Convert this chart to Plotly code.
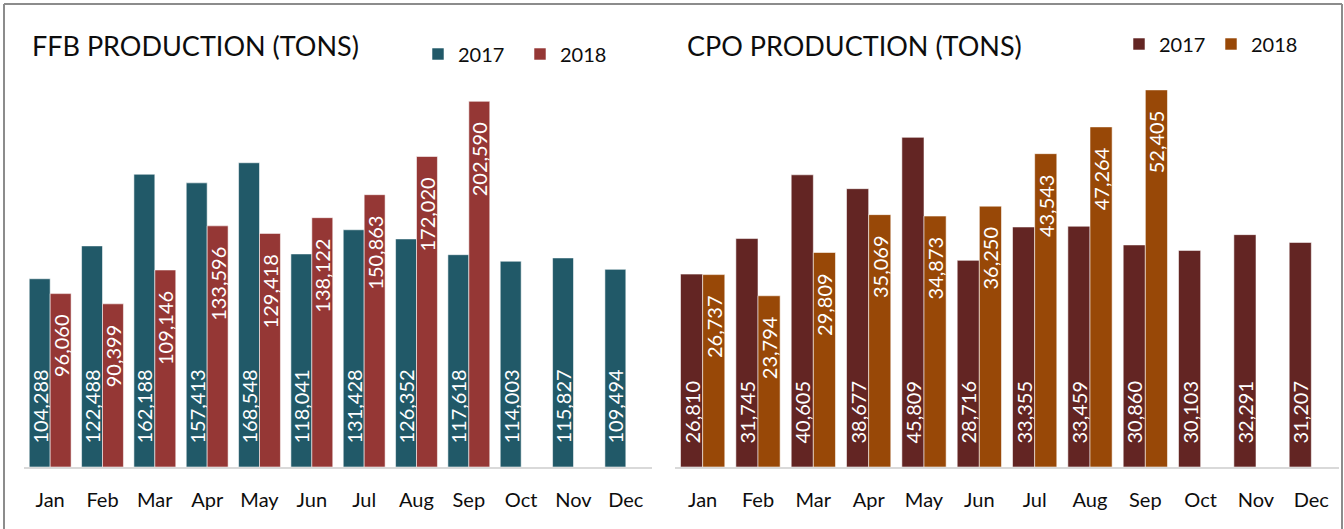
import plotly.graph_objects as go

months = ["Jan", "Feb", "Mar", "Apr", "May", "Jun", "Jul", "Aug", "Sep", "Oct", "Nov", "Dec"]
ffb_2017 = [104288, 122488, 162188, 157413, 168548, 118041, 131428, 126352, 117618, 114003, 115827, 109494]
ffb_2018 = [96060, 90399, 109146, 133596, 129418, 138122, 150863, 172020, 202590, None, None, None]
cpo_2017 = [26810, 31745, 40605, 38677, 45809, 28716, 33355, 33459, 30860, 30103, 32291, 31207]
cpo_2018 = [26737, 23794, 29809, 35069, 34873, 36250, 43543, 47264, 52405, None, None, None]

W, H = 1344, 529
FONT = "Lato"
PAD_START = "\u00a0" * 4
PAD_END = "\u00a0" * 3 + "\u2009"
edge = dict(color="rgba(255,255,255,0.55)", width=1)
lab_font = dict(family=FONT, size=20, color="white")

def bar(name, y, color, xa, ya, legend, start):
    return go.Bar(
        x=months, y=y, name=name, marker=dict(color=color, line=edge),
        xaxis=xa, yaxis=ya, legend=legend,
        texttemplate=(PAD_START + "%{y:,}") if start else ("%{y:,}" + PAD_END),
        textposition="inside", textangle=-90,
        insidetextanchor="start" if start else "end",
        constraintext="none", textfont=lab_font, cliponaxis=False,
    )

fig = go.Figure()
fig.add_trace(bar("2017", ffb_2017, "#215968", "x", "y", "legend", True))
fig.add_trace(bar("2018", ffb_2018, "#953735", "x", "y", "legend", False))
fig.add_trace(bar("2017", cpo_2017, "#632523", "x2", "y2", "legend2", True))
fig.add_trace(bar("2018", cpo_2018, "#984807", "x2", "y2", "legend2", False))

ybot = (H - 467) / H
ytop = (H - 80) / H
xcommon = dict(showline=True, linecolor="#d9d9d9", linewidth=2, ticks="",
               tickfont=dict(family=FONT, size=20, color="#0d0d0d"),
               ticklabelstandoff=14, showgrid=False, zeroline=False, fixedrange=True)
ycommon = dict(visible=False, showgrid=False, zeroline=False, domain=[ybot, ytop], fixedrange=True)

fig.update_layout(
    width=W, height=H, margin=dict(l=0, r=0, t=0, b=0),
    paper_bgcolor="white", plot_bgcolor="white",
    barmode="group", bargap=0.2, bargroupgap=0,
    font=dict(family=FONT, color="#0d0d0d"),
    xaxis=dict(domain=[24 / W, 652 / W], anchor="y", **xcommon),
    xaxis2=dict(domain=[675 / W, 1339 / W], anchor="y2", **xcommon),
    yaxis=dict(range=[0, 214400], anchor="x", **ycommon),
    yaxis2=dict(range=[0, 53780], anchor="x2", **ycommon),
    legend=dict(orientation="h", x=(438 - 20) / W, y=1 - 54 / H, xanchor="left", yanchor="middle",
                font=dict(family=FONT, size=20, color="#0d0d0d"), bgcolor="rgba(0,0,0,0)",
                entrywidth=57, entrywidthmode="pixels", traceorder="normal"),
    legend2=dict(orientation="h", x=(1139 - 20) / W, y=1 - 44 / H, xanchor="left", yanchor="middle",
                 font=dict(family=FONT, size=20, color="#0d0d0d"), bgcolor="rgba(0,0,0,0)",
                 entrywidth=47, entrywidthmode="pixels", traceorder="normal"),
    annotations=[
        dict(text="FFB PRODUCTION (TONS)", x=30 / W, y=1 - 46 / H, xref="paper", yref="paper",
             xanchor="left", yanchor="middle", showarrow=False,
             font=dict(family=FONT, size=27, color="#0d0d0d")),
        dict(text="CPO PRODUCTION (TONS)", x=685 / W, y=1 - 46 / H, xref="paper", yref="paper",
             xanchor="left", yanchor="middle", showarrow=False,
             font=dict(family=FONT, size=27, color="#0d0d0d")),
    ],
    shapes=[
        dict(type="line", xref="paper", yref="paper", x0=4 / W, x1=1342 / W, y0=1 - 4 / H, y1=1 - 4 / H,
             line=dict(color="#8c8c8c", width=2)),
        dict(type="line", xref="paper", yref="paper", x0=4 / W, x1=4 / W, y0=0, y1=1 - 4 / H,
             line=dict(color="#8c8c8c", width=2)),
        dict(type="line", xref="paper", yref="paper", x0=1342 / W, x1=1342 / W, y0=0, y1=1 - 4 / H,
             line=dict(color="#8c8c8c", width=2)),
    ],
)

fig.write_html("out.html", config={"displayModeBar": False},
               post_script="document.body.style.margin='0';")
